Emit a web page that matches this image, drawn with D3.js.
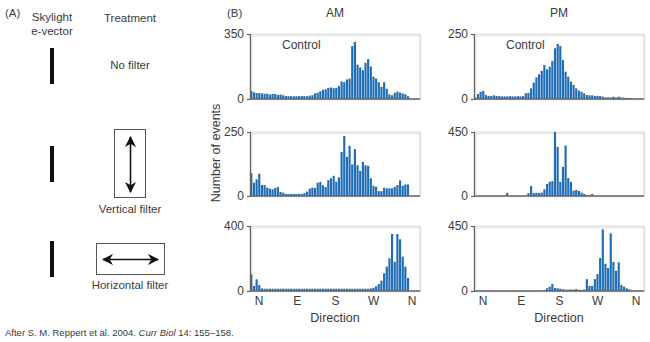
<!DOCTYPE html>
<html><head><meta charset="utf-8">
<script src="https://cdn.jsdelivr.net/npm/d3@7"></script>
<style>
body{margin:0;background:#fff;}
text{font-family:"Liberation Sans",Arial,sans-serif;fill:#3a3a3a;}
</style></head>
<body><svg id="c" width="650" height="342"></svg>
<script>
// ---------- data ----------
const rowTreatments = ["No filter", "Vertical filter", "Horizontal filter"];
const columns = ["AM", "PM"];
const directionLabels = ["N", "E", "S", "W", "N"];
const directionDegrees = [0, 90, 180, 270, 360];
const binStartDeg = -21.25;
const binWidthDeg = 6.25;

const amControl = [43,36,32,32,30,28,29,24,27,27,22,24,20,16,15,15,15,15,15,16,16,15,18,20,30,34,42,50,52,60,62,58,60,70,95,90,105,110,285,307,185,170,155,195,215,175,120,110,90,65,90,55,25,20,33,40,35,30,25,15];
const pmControl = [6,19,28,31,15,12,12,14,12,11,10,10,10,11,10,10,11,10,11,22,24,41,63,83,95,108,131,114,124,146,195,212,204,150,105,86,67,54,41,32,28,22,15,14,14,12,12,12,9,6,6,6,9,6,9,6,5,4,4,3];
const amVertical = [89,52,65,87,43,43,33,29,26,31,35,16,13,8,8,8,8,8,8,8,12,17,29,33,31,52,55,42,35,62,69,79,56,73,172,234,153,196,123,183,120,98,133,120,118,69,40,36,19,19,32,30,30,30,36,43,61,40,45,45];
const pmVertical = [0,0,0,0,0,0,0,0,0,0,0,0,22,0,0,0,0,0,0,0,20,71,22,22,22,24,47,85,100,105,450,346,100,204,355,126,100,38,43,36,24,14,7,5,14,0,0,0,0,0,0,0,0,0,0,0,0,0,0,0];
const amHorizontal = [103,31,72,37,16,14,14,14,14,14,14,14,14,14,14,14,14,14,14,14,14,14,14,14,14,14,14,14,14,14,14,14,14,14,14,14,14,14,14,14,14,14,14,14,14,16,20,29,43,64,109,150,201,351,180,351,318,211,150,80];
const pmHorizontal = [0,0,0,0,0,0,0,0,0,0,0,0,0,0,0,0,0,0,0,0,0,0,0,0,0,0,7,19,30,49,21,19,16,12,10,10,10,10,14,9,8,10,82,35,35,82,117,229,427,189,159,399,201,140,198,42,30,19,12,5];

const panelValues = [[amControl, pmControl],[amVertical, pmVertical],[amHorizontal, pmHorizontal]];
const yMaxValues = [[350, 250],[250, 450],[400, 450]];

// ---------- layout ----------
const svg = d3.select("#c");
const colLeft = [250, 474];
const plotW = 170;
const rowTop = [34, 132, 226];
const rowBottom = [99, 196, 291];
const barColor = "#1f6db6";

// Part A
svg.append("text").attr("x", 5).attr("y", 17).attr("font-size", 11.5).text("(A)");
svg.append("text").attr("x", 52).attr("y", 21).attr("font-size", 11.5).attr("text-anchor","middle").text("Skylight");
svg.append("text").attr("x", 52).attr("y", 35).attr("font-size", 11.5).attr("text-anchor","middle").text("e-vector");
svg.append("text").attr("x", 130).attr("y", 22).attr("font-size", 11.5).attr("text-anchor","middle").text("Treatment");

const eBars = [[48,84],[146,182],[241,277]];
eBars.forEach(b => svg.append("rect").attr("x", 50).attr("y", b[0]).attr("width", 4).attr("height", b[1]-b[0]).attr("fill", "#111"));

svg.append("text").attr("x", 130).attr("y", 69).attr("font-size", 11.5).attr("text-anchor","middle").text(rowTreatments[0]);

const defs = svg.append("defs");
defs.append("marker").attr("id","ah").attr("viewBox","0 0 10 10").attr("refX",9).attr("refY",5)
  .attr("markerWidth",7).attr("markerHeight",7).attr("orient","auto-start-reverse")
  .append("path").attr("d","M0,0 L10,5 L0,10 L3,5 Z").attr("fill","#111");

svg.append("rect").attr("x",114.5).attr("y",129.5).attr("width",31).attr("height",68).attr("fill","none").attr("stroke","#555").attr("stroke-width",1);
svg.append("line").attr("x1",130.5).attr("x2",130.5).attr("y1",137).attr("y2",192).attr("stroke","#111").attr("stroke-width",1.6)
  .attr("marker-start","url(#ah)").attr("marker-end","url(#ah)");
svg.append("text").attr("x", 130).attr("y", 213).attr("font-size", 11.5).attr("text-anchor","middle").text(rowTreatments[1]);

svg.append("rect").attr("x",96.5).attr("y",243.5).attr("width",68).attr("height",31).attr("fill","none").attr("stroke","#555").attr("stroke-width",1);
svg.append("line").attr("x1",103).attr("x2",158).attr("y1",259.5).attr("y2",259.5).attr("stroke","#111").attr("stroke-width",1.6)
  .attr("marker-start","url(#ah)").attr("marker-end","url(#ah)");
svg.append("text").attr("x", 130).attr("y", 289).attr("font-size", 11.5).attr("text-anchor","middle").text(rowTreatments[2]);

// Part B
svg.append("text").attr("x", 227).attr("y", 17).attr("font-size", 11.5).text("(B)");
columns.forEach((c, ci) => {
  svg.append("text").attr("x", colLeft[ci] + 85).attr("y", 17).attr("font-size", 12).attr("text-anchor","middle").text(c);
});
svg.append("text").attr("transform","translate(220,153) rotate(-90)").attr("font-size", 12.5).attr("text-anchor","middle").text("Number of events");

rowTop.forEach((top, ri) => {
  const bottom = rowBottom[ri];
  columns.forEach((c, ci) => {
    const left = colLeft[ci];
    const vals = panelValues[ri][ci];
    const yMax = yMaxValues[ri][ci];
    const x = d3.scaleLinear().domain([0, 360]).range([left + 9, left + 162]);
    const y = d3.scaleLinear().domain([0, yMax]).range([bottom, top]);
    const g = svg.append("g");
    // frame
    g.append("rect").attr("x", left + 1.5).attr("y", top + 1.5).attr("width", plotW - 1).attr("height", bottom - top - 1)
      .attr("fill", "none").attr("stroke", "#ececec").attr("stroke-width", 2);
    g.append("rect").attr("x", left).attr("y", top).attr("width", plotW).attr("height", bottom - top)
      .attr("fill", "none").attr("stroke", "#d4d4d4").attr("stroke-width", 0.8);
    // bars
    g.selectAll("rect.bar").data(vals).join("rect").attr("class","bar")
      .attr("x", (d, i) => x(binStartDeg + i * binWidthDeg) + 0.25)
      .attr("width", (d, i) => x(binStartDeg + (i + 1) * binWidthDeg) - x(binStartDeg + i * binWidthDeg) - 0.5)
      .attr("y", d => y(d)).attr("height", d => bottom - y(d))
      .attr("fill", barColor);
    // y axis
    const ax = g.append("g").attr("transform", `translate(${left},0)`)
      .call(d3.axisLeft(y).tickValues([0, yMax]).tickSize(3).tickPadding(3).tickFormat(d3.format("d")));
    ax.select(".domain").attr("stroke", "#666").attr("stroke-width", 1.2);
    ax.selectAll(".tick line").attr("stroke", "#666").attr("stroke-width", 1.2);
    ax.selectAll(".tick text").attr("font-size", 12).attr("fill", "#3a3a3a").attr("font-family", "Liberation Sans, Arial, sans-serif");
    // baseline
    g.append("line").attr("x1", left).attr("x2", left + plotW).attr("y1", bottom).attr("y2", bottom)
      .attr("stroke", "#666").attr("stroke-width", 1.5);
    if (ri === 0) {
      g.append("text").attr("x", left + 32).attr("y", 49).attr("font-size", 12).text("Control");
    }
    if (ri === 2) {
      g.selectAll("text.dir").data(directionDegrees).join("text").attr("class","dir")
        .attr("x", d => x(d)).attr("y", 305).attr("font-size", 12).attr("text-anchor","middle")
        .text((d, i) => directionLabels[i]);
      g.append("text").attr("x", left + 85).attr("y", 322).attr("font-size", 12.5).attr("text-anchor","middle").text("Direction");
    }
  });
});

// source note
const note = svg.append("text").attr("x", 5).attr("y", 336).attr("font-size", 9.5);
note.append("tspan").text("After S. M. Reppert et al. 2004. ");
note.append("tspan").attr("font-style","italic").text("Curr Biol");
note.append("tspan").text(" 14: 155–158.");
</script></body></html>
